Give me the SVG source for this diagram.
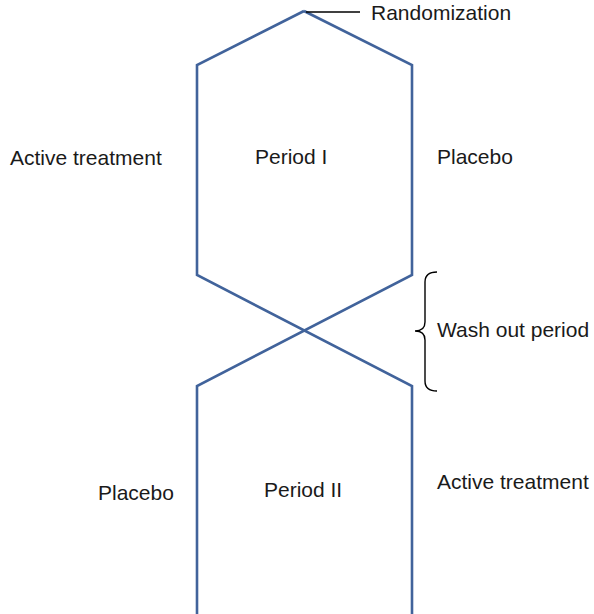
<svg xmlns="http://www.w3.org/2000/svg" width="594" height="614" viewBox="0 0 594 614">
<style>
.arm{fill:none;stroke:#41639b;stroke-width:2.6;stroke-linejoin:miter}
.thin{fill:none;stroke:#000;stroke-width:1.4}
text{font-family:"Liberation Sans",Arial,sans-serif;font-size:21px;fill:#1a1a1a}
</style>
<rect width="594" height="614" fill="#fff"/>
<g id="connectors">
<polyline id="arm-left" class="arm" points="197,614 197,386 412,275 412,65 304,11"/>
<polyline id="arm-right" class="arm" points="412,614 412,386 197,275 197,65 304,11"/>
<line class="thin" x1="306" y1="12" x2="360" y2="12"/>
<path class="thin" d="M437,272 Q425,272 425,282 L425,322 Q425,331 415,331 Q425,331 425,340 L425,381 Q425,391 437,391"/>
</g>
<g id="randomization"><text x="371" y="20">Randomization</text></g>
<g id="period1"><text x="255" y="164">Period I</text></g>
<g id="active1"><text x="10" y="165">Active treatment</text></g>
<g id="placebo1"><text x="437" y="164">Placebo</text></g>
<g id="washout"><text x="437" y="337">Wash out period</text></g>
<g id="placebo2"><text x="98" y="500">Placebo</text></g>
<g id="period2"><text x="264" y="497">Period II</text></g>
<g id="active2"><text x="437" y="489">Active treatment</text></g>
</svg>
